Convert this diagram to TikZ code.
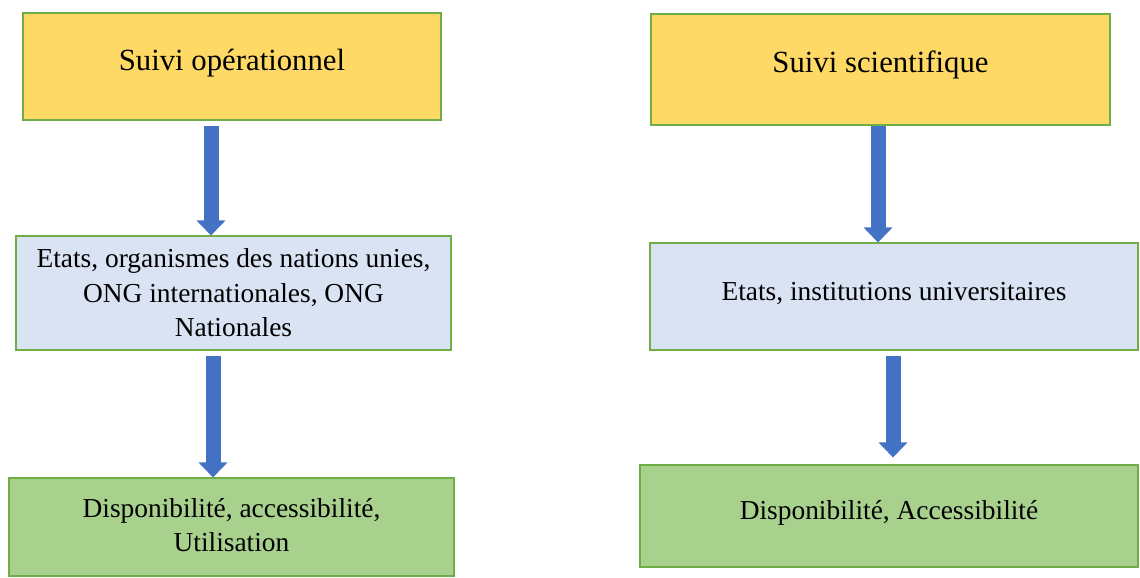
\documentclass[tikz,border=0pt]{standalone}
\usepackage{fontspec}
\setmainfont{Liberation Serif}
\usetikzlibrary{arrows.meta}
\usetikzlibrary{positioning}
\definecolor{jaune}{HTML}{FFD966}
\definecolor{bleuclair}{HTML}{DAE3F3}
\definecolor{vert}{HTML}{A9D18E}
\definecolor{bord}{HTML}{70AD47}
\definecolor{fleche}{HTML}{4472C4}
\begin{document}
\begin{tikzpicture}[
box/.style={draw=bord, line width=0.6pt, rectangle, inner sep=0pt},
titre/.style={font=\fontsize{17.5}{21}\selectfont, align=center},
corps/.style={font=\fontsize{15.6}{19.6}\selectfont, align=center},
grosse/.style={draw=fleche, line width=0.3cm, -{Triangle[width=0.56cm, length=0.3cm]}}
]
\useasboundingbox (0,0) rectangle (22.8,-11.54);
\node[box, fill=jaune, minimum width=8.36cm, minimum height=2.14cm] (op) at (4.64,-1.33) {};
\node[titre] (opT) at ([yshift=0.07cm]op.center) {Suivi opérationnel};
\node[box, fill=jaune, minimum width=9.18cm, minimum height=2.22cm] (sci) at (17.61,-1.39) {};
\node[titre] (sciT) at ([yshift=0.09cm]sci.center) {Suivi scientifique};
\node[box, fill=bleuclair, minimum width=8.7cm, minimum height=2.28cm] (etats) at (4.67,-5.86) {};
\node[corps] (etatsT) at ([yshift=0cm]etats.center) {Etats, organismes des nations unies,\\ONG internationales, ONG\\Nationales};
\node[box, fill=bleuclair, minimum width=9.76cm, minimum height=2.14cm] (univ) at (17.88,-5.93) {};
\node[corps] (univT) at ([yshift=0.05cm]univ.center) {Etats, institutions universitaires};
\node[box, fill=vert, minimum width=8.9cm, minimum height=1.96cm] (dispo) at (4.63,-10.54) {};
\node[corps] (dispoT) at ([yshift=0.04cm]dispo.center) {Disponibilité, accessibilité,\\Utilisation};
\node[box, fill=vert, minimum width=9.96cm, minimum height=2.04cm] (acces) at (17.78,-10.32) {};
\node[corps] (accesT) at ([yshift=0.06cm]acces.center) {Disponibilité, Accessibilité};
\coordinate (l1) at ([xshift=-0.42cm,yshift=-0.1cm]op.south);
\coordinate (l2) at ([xshift=-0.41cm,yshift=-0.1cm]etats.south);
\coordinate (r1) at ([xshift=-0.05cm]sci.south);
\coordinate (r2) at ([xshift=-0.02cm,yshift=-0.1cm]univ.south);
\draw[grosse] (l1) -- (l1 |- etats.north);
\draw[grosse] (l2) -- (l2 |- dispo.north);
\draw[grosse] (r1) -- (r1 |- univ.north);
\draw[grosse, shorten >=0.14cm] (r2) -- (r2 |- acces.north);
\end{tikzpicture}
\end{document}
